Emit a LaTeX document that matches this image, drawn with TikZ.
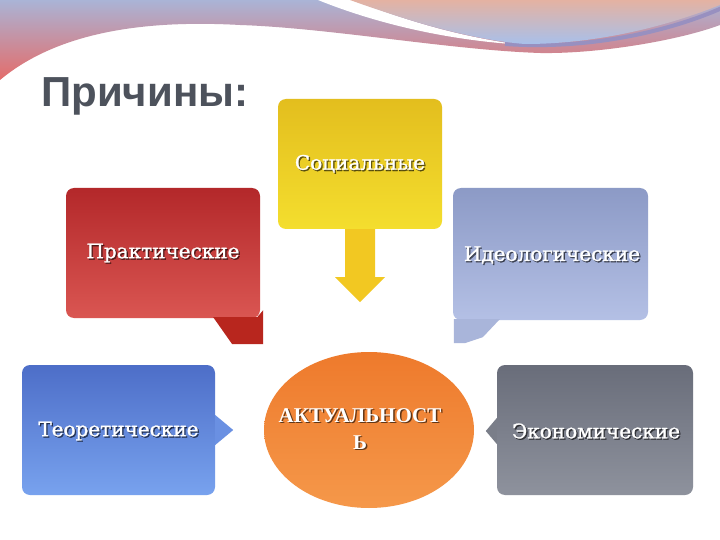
\documentclass[tikz,border=0pt]{standalone}
\usepackage{fontspec}
\setmainfont{DejaVu Serif}
\newfontfamily\titlefont{Liberation Sans}
\newfontfamily\lblfont{DejaVu Serif}[FakeBold=1.2]
\newfontfamily\actfont{Liberation Serif}
\usetikzlibrary{calc,shapes.geometric}
\definecolor{decoA}{HTML}{AAB4D6}
\definecolor{decoB}{HTML}{CDA2BC}
\definecolor{decoC}{HTML}{E46C6A}
\definecolor{blobA}{HTML}{E4B2A2}
\definecolor{blobB}{HTML}{A8C0EA}
\definecolor{stripe}{HTML}{9890C0}
\definecolor{titlegray}{HTML}{4D525C}
\definecolor{yelA}{HTML}{E3BE1E}
\definecolor{yelB}{HTML}{F4DE2E}
\definecolor{yelArrow}{HTML}{F2C822}
\definecolor{redA}{HTML}{B3282A}
\definecolor{redB}{HTML}{DA5652}
\definecolor{redArrow}{HTML}{B8261E}
\definecolor{ideoA}{HTML}{8C9AC6}
\definecolor{ideoB}{HTML}{B4C0E5}
\definecolor{ideoArrow}{HTML}{A9B5DA}
\definecolor{bluA}{HTML}{4D6EC8}
\definecolor{bluB}{HTML}{78A2EE}
\definecolor{bluArrow}{HTML}{6A90E2}
\definecolor{gryA}{HTML}{696D7A}
\definecolor{gryB}{HTML}{8E929D}
\definecolor{gryArrow}{HTML}{7A7E89}
\definecolor{orgA}{HTML}{EE7A2C}
\definecolor{orgB}{HTML}{F5984A}
\tikzset{
  causebox/.style={rectangle, rounded corners=8pt, inner sep=0pt, draw=none},
  lbl/.style={text=white, font=\lblfont\fontsize{20}{22}\selectfont, inner sep=0pt},
  lblshadow/.style={text=black, opacity=0.55, font=\lblfont\fontsize{20}{22}\selectfont, inner sep=0pt},
  actlbl/.style={text=white, font=\actfont\bfseries\fontsize{21}{27}\selectfont, align=center, inner sep=0pt},
  actshadow/.style={text=black, opacity=0.6, font=\actfont\bfseries\fontsize{21}{27}\selectfont, align=center, inner sep=0pt}
}
\begin{document}
\begin{tikzpicture}[x=1pt,y=-1pt]
\useasboundingbox (0,0) rectangle (720,540);
\fill[white] (0,0) rectangle (720,540);
% top decoration
\shade[top color=decoA, middle color=decoB, bottom color=decoC]
  (0,0) -- (720,0) -- (720,25)
  .. controls (680,40) and (600,54) .. (540,53)
  .. controls (450,50) and (330,28) .. (240,25)
  .. controls (150,20) and (60,30) .. (0,80) -- cycle;
\fill[white] (318,0) .. controls (380,25) and (450,40) .. (518,44.5)
  .. controls (450,35) and (400,18) .. (352,0) -- cycle;
\draw[stripe, line width=4pt] (505,44) .. controls (590,50) and (670,31) .. (722,8);
\shade[top color=blobA, bottom color=blobB]
  (350,0) .. controls (400,18) and (470,40) .. (525,44)
  .. controls (600,44) and (670,25) .. (720,5) -- (720,0) -- cycle;
% title
\node[text=titlegray, font=\titlefont\bfseries\fontsize{42}{44}\selectfont, anchor=base west, inner sep=0pt] (title) at (41,107) {Причины:};
% boxes
\node[causebox, top color=yelA, bottom color=yelB, minimum width=164pt, minimum height=130pt] (soc) at (360,164) {};
\node[causebox, top color=redA, bottom color=redB, minimum width=194pt, minimum height=130pt] (prak) at (163,253) {};
\node[causebox, top color=ideoA, bottom color=ideoB, minimum width=195pt, minimum height=132pt] (ideo) at (550.5,254) {};
\node[causebox, top color=bluA, bottom color=bluB, minimum width=193pt, minimum height=130pt] (theo) at (118.5,430) {};
\node[causebox, top color=gryA, bottom color=gryB, minimum width=196pt, minimum height=130pt] (econ) at (595,430) {};
\node[ellipse, top color=orgA, bottom color=orgB, minimum width=210pt, minimum height=156pt, inner sep=0pt] (act) at (369,430) {};
% connectors
\fill[yelArrow] ($(soc.south)+(-15,0)$) -- ($(soc.south)+(15,0)$) -- ($(soc.south)+(15,48)$) -- ($(soc.south)+(25,48)$) -- ($(soc.south)+(0,73)$) -- ($(soc.south)+(-25,48)$) -- ($(soc.south)+(-15,48)$) -- cycle;
\fill[redArrow] ($(prak.south east)+(-47,-1)$) -- ($(prak.south east)+(-28,26)$) -- ($(prak.south east)+(3,26)$) -- ($(prak.south east)+(3,-8)$) -- ($(prak.south east)+(-3,-1)$) -- cycle;
\fill[ideoArrow] ($(ideo.south west)+(1,-1)$) -- ($(ideo.south west)+(47,-1)$) -- ($(ideo.south west)+(30,17)$) -- ($(ideo.south west)+(12,23)$) -- ($(ideo.south west)+(1,23)$) -- cycle;
\fill[bluArrow] ($(theo.east)+(0,-15)$) -- ($(theo.east)+(18,0)$) -- ($(theo.east)+(0,15)$) -- cycle;
\fill[gryArrow] ($(econ.west)+(0,-12)$) -- ($(econ.west)+(-11,1)$) -- ($(econ.west)+(0,14)$) -- cycle;
% labels
\node[lblshadow] (socs) at ($(soc)+(1.3,1)$) {Социальные};
\node[lbl] (soct) at ($(soc)+(0,-0.3)$) {Социальные};
\node[lblshadow] (praks) at ($(prak)+(1.3,1.3)$) {Практические};
\node[lbl] (prakt) at (prak) {Практические};
\node[lblshadow] (ideos) at ($(ideo)+(2.8,2.3)$) {Идеологические};
\node[lbl] (ideot) at ($(ideo)+(1.5,1)$) {Идеологические};
\node[lblshadow] (theos) at ($(theo)+(1.3,2.3)$) {Теоретические};
\node[lbl] (theot) at ($(theo)+(0,1)$) {Теоретические};
\node[lblshadow] (econs) at ($(econ)+(2.3,2.3)$) {Экономические};
\node[lbl] (econt) at ($(econ)+(1,1)$) {Экономические};
\node[actshadow] (acts) at ($(act)+(-7.5,0.5)$) {АКТУАЛЬНОСТ\\Ь};
\node[actlbl] (actt) at ($(act)+(-9,-1)$) {АКТУАЛЬНОСТ\\Ь};
\end{tikzpicture}
\end{document}
